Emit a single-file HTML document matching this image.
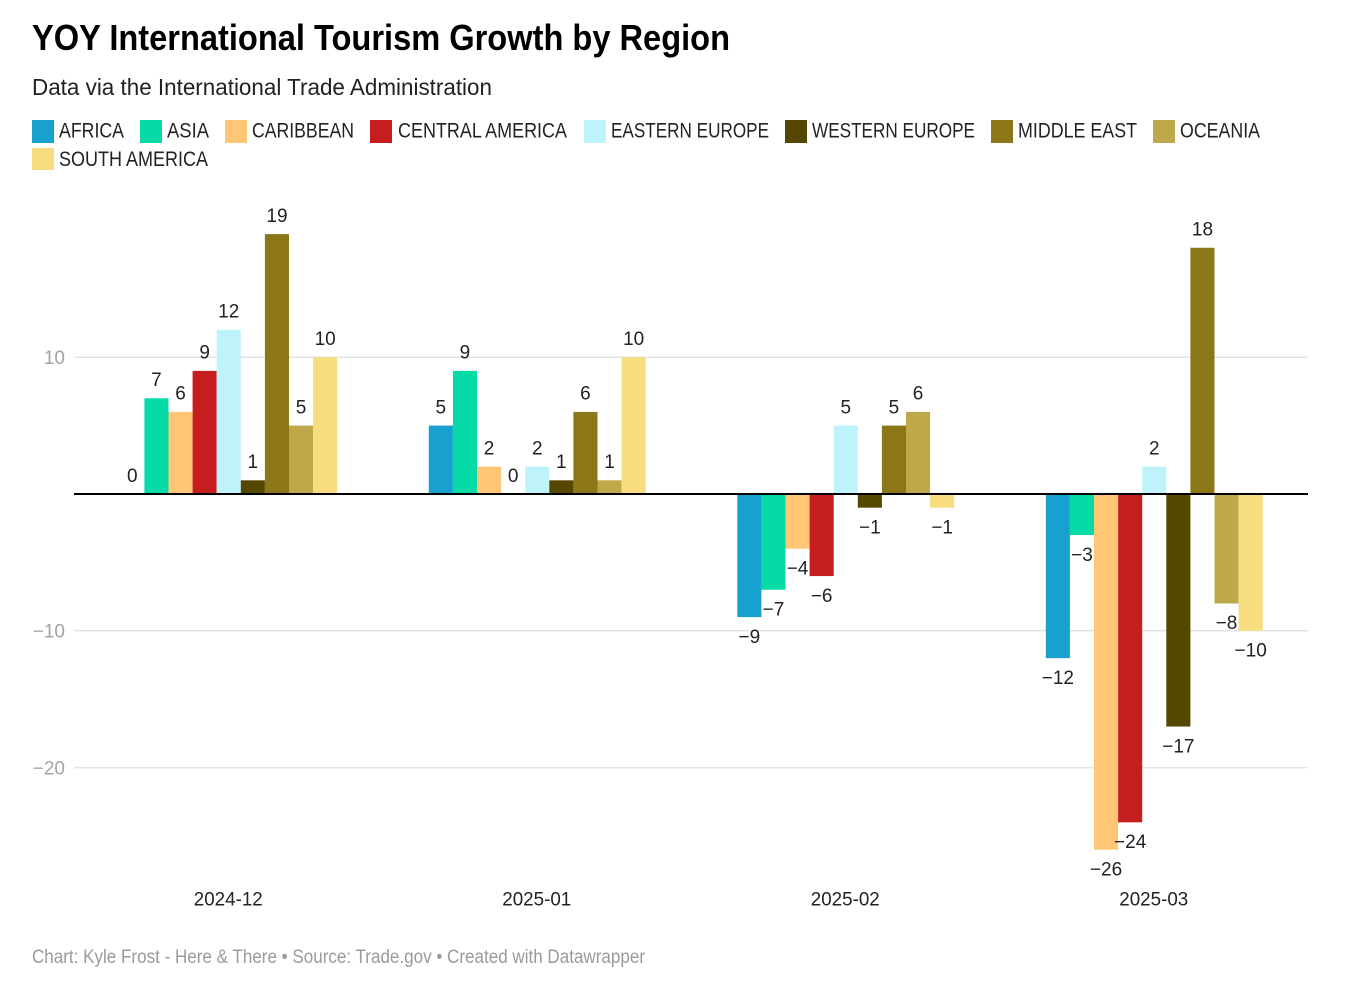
<!DOCTYPE html>
<html lang="en">
<head>
<meta charset="utf-8">
<title>YOY International Tourism Growth by Region</title>
<style>
  html, body { margin: 0; padding: 0; background: #fff; }
  svg { display: block; font-family: "Liberation Sans", sans-serif; }
</style>
</head>
<body>
<svg id="chart" xmlns="http://www.w3.org/2000/svg" width="1354" height="1004" viewBox="0 0 1354 1004">
  <rect x="0" y="0" width="1354" height="1004" fill="#ffffff"/>
  <text x="32" y="50" font-size="36" font-weight="700" fill="#000" textLength="698" lengthAdjust="spacingAndGlyphs">YOY International Tourism Growth by Region</text>
  <text x="32" y="95" font-size="23" fill="#222" textLength="460" lengthAdjust="spacingAndGlyphs">Data via the International Trade Administration</text>

  <g font-size="21" fill="#222">
    <g><rect x="32" y="120" width="22" height="23" fill="#18a0ce"/><text x="59" y="137.5" textLength="65" lengthAdjust="spacingAndGlyphs">AFRICA</text></g>
    <g><rect x="140" y="120" width="22" height="23" fill="#06dba8"/><text x="167" y="137.5" textLength="42" lengthAdjust="spacingAndGlyphs">ASIA</text></g>
    <g><rect x="225" y="120" width="22" height="23" fill="#ffc675"/><text x="252" y="137.5" textLength="102" lengthAdjust="spacingAndGlyphs">CARIBBEAN</text></g>
    <g><rect x="370" y="120" width="22" height="23" fill="#c61e1e"/><text x="398" y="137.5" textLength="169" lengthAdjust="spacingAndGlyphs">CENTRAL AMERICA</text></g>
    <g><rect x="584" y="120" width="22" height="23" fill="#bff3fc"/><text x="611" y="137.5" textLength="158" lengthAdjust="spacingAndGlyphs">EASTERN EUROPE</text></g>
    <g><rect x="785" y="120" width="22" height="23" fill="#564700"/><text x="812" y="137.5" textLength="163" lengthAdjust="spacingAndGlyphs">WESTERN EUROPE</text></g>
    <g><rect x="991" y="120" width="22" height="23" fill="#8c7718"/><text x="1018" y="137.5" textLength="119" lengthAdjust="spacingAndGlyphs">MIDDLE EAST</text></g>
    <g><rect x="1153" y="120" width="22" height="23" fill="#bfa84a"/><text x="1180" y="137.5" textLength="80" lengthAdjust="spacingAndGlyphs">OCEANIA</text></g>
    <g><rect x="32" y="148" width="22" height="22" fill="#f7dd7f"/><text x="59" y="166" textLength="149" lengthAdjust="spacingAndGlyphs">SOUTH AMERICA</text></g>
  </g>

  <g id="grid"></g>
  <g id="bars"></g>
  <g id="zero"></g>
  <g id="labels"></g>
  <g id="xaxis"></g>

  <text x="32" y="963" font-size="19" fill="#9a9a9a" textLength="613" lengthAdjust="spacingAndGlyphs">Chart: Kyle Frost - Here &amp; There • Source: Trade.gov • Created with Datawrapper</text>
</svg>

<script>
const categories = ["2024-12", "2025-01", "2025-02", "2025-03"];
const seriesNames = ["africa", "asia", "caribbean", "central-america", "eastern-europe", "western-europe", "middle-east", "oceania", "south-america"];
const africa = [0, 5, -9, -12];
const asia = [7, 9, -7, -3];
const caribbean = [6, 2, -4, -26];
const centralAmerica = [9, 0, -6, -24];
const easternEurope = [12, 2, 5, 2];
const westernEurope = [1, 1, -1, -17];
const middleEast = [19, 6, 5, 18];
const oceania = [5, 1, 6, -8];
const southAmerica = [10, 10, -1, -10];
const yTicks = [10, -10, -20];

const seriesValues = [africa, asia, caribbean, centralAmerica, easternEurope, westernEurope, middleEast, oceania, southAmerica];
const seriesColors = ["#18a0ce", "#06dba8", "#ffc675", "#c61e1e", "#bff3fc", "#564700", "#8c7718", "#bfa84a", "#f7dd7f"];

const NS = "http://www.w3.org/2000/svg";
const plotLeft = 74, plotRight = 1308, zeroY = 494, pxPerUnit = 13.68, barW = 24.1;
const bandW = (plotRight - plotLeft) / categories.length;

function y(v) { return zeroY - v * pxPerUnit; }
function groupCenter(i) { return plotLeft + bandW * (i + 0.5); }
function barX(i, s) { return groupCenter(i) + 0.5 - barW * seriesValues.length / 2 + s * barW; }
function fmt(v) { return v < 0 ? "\u2212" + Math.abs(v) : String(v); }
function make(tag, attrs, parent, text) {
  const el = document.createElementNS(NS, tag);
  for (const k in attrs) el.setAttribute(k, attrs[k]);
  if (text !== undefined) el.textContent = text;
  parent.appendChild(el);
  return el;
}

const gridG = document.getElementById("grid");
const barsG = document.getElementById("bars");
const zeroG = document.getElementById("zero");
const labelsG = document.getElementById("labels");
const xG = document.getElementById("xaxis");

yTicks.forEach(function (t) {
  const line = make("line", { x1: plotLeft, x2: plotRight, y1: y(t), y2: y(t), stroke: "#e4e4e4", "stroke-width": 1.5 }, gridG);
  
  
  const lab = make("text", { x: 65, y: y(t) + 6.8, "text-anchor": "end", "font-size": 19, fill: "#a3a3a3" }, gridG, fmt(t));
  
  
});

seriesValues.forEach(function (vals, s) {
  vals.forEach(function (v, i) {
    const x0 = barX(i, s);
    const top = Math.min(y(v), y(0));
    const h = Math.abs(y(v) - y(0));
    const bar = make("rect", { x: x0, y: top, width: barW, height: h, fill: seriesColors[s] }, barsG);
    
    
    const cy = v < 0 ? y(v) + 19 : y(v) - 19;
    const lab = make("text", { x: x0 + barW / 2, y: cy + 6.8, "text-anchor": "middle", "font-size": 19, fill: "#222" }, labelsG, fmt(v));
    
    
  });
});

const zeroLine = make("line", { x1: plotLeft, x2: plotRight, y1: y(0), y2: y(0), stroke: "#000", "stroke-width": 2 }, zeroG);



categories.forEach(function (c, i) {
  const lab = make("text", { x: groupCenter(i), y: 905.5, "text-anchor": "middle", "font-size": 19, fill: "#222", textLength: 69, lengthAdjust: "spacingAndGlyphs" }, xG, c);
  
  
});
</script>
</body>
</html>
